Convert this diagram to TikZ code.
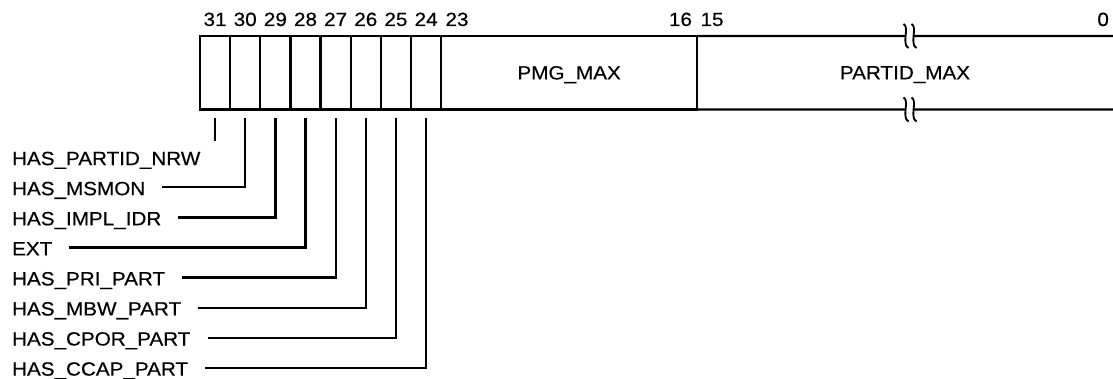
\documentclass[tikz,border=0pt]{standalone}
\usepackage{fontspec}
\setmainfont{Liberation Sans}[FakeStretch=1.08,FakeBold=0.4]
\usetikzlibrary{positioning}

\begin{document}
\begin{tikzpicture}[
  x=0.025cm,y=-0.025cm,
  font=\fontsize{13.6}{16}\selectfont,
  line width=1.6pt,
  bitcell/.style={draw,minimum width=0.75375cm,minimum height=1.8375cm,inner sep=0pt,outer sep=0pt},
  field/.style={draw,minimum width=6.395cm,minimum height=1.8375cm,inner sep=0pt,outer sep=0pt,text depth=0pt},
  bitnum/.style={anchor=base,inner sep=0pt},
  flag/.style={anchor=west,inner xsep=0pt,inner ysep=0pt,text height=0.39cm,text depth=0pt},
  lead/.style={shorten >=0.4cm},
  brk/.pic={
    \fill[white] (-4,-2.8) rectangle (4,2.8);
    \draw[line width=1.3pt] (-6.5,-12) .. controls (0,-9) and (-9,8) .. (-1.5,12);
    \draw[line width=1.3pt] (1.5,-12) .. controls (8,-9) and (-1,8) .. (6.5,12);
  }
]
  \useasboundingbox (0,0) rectangle (1113,379);

  % flag bits 31..24
  \foreach \b [count=\i from 0] in {31,30,...,24}
    \node[bitcell] (b\b) at ({215.075+30.15*\i},72.75) {};
  \foreach \b in {31,30,...,24}
    \node[bitnum] (n\b) at ([yshift=0.25cm]b\b.north) {\b};

  % wide fields
  \node[field,right=0pt of b24] (pmg) {PMG\_MAX};
  \coordinate (tend) at (1113,36);
  \coordinate (bend) at (1113,109.5);
  \draw (pmg.north east) -- (tend);
  \draw (pmg.south east) -- (bend);
  \node[text depth=0pt] (partid) at (905,72.75) {PARTID\_MAX};
  \pic at (910,36) {brk};
  \pic at (910,109.5) {brk};

  \node[bitnum,anchor=base west] (n23) at ([xshift=0.08cm,yshift=0.25cm]pmg.north west) {23};
  \node[bitnum,anchor=base east] (n16) at ([xshift=-0.1cm,yshift=0.25cm]pmg.north east) {16};
  \node[bitnum,anchor=base west] (n15) at ([xshift=0.06cm,yshift=0.25cm]pmg.north east) {15};
  \node[bitnum,anchor=base east] (n0) at ([xshift=-0.075cm,yshift=0.25cm]tend) {0};

  % field names
  \foreach \b/\t [count=\k from 0] in {31/HAS\_PARTID\_NRW,30/HAS\_MSMON,29/HAS\_IMPL\_IDR,28/EXT,
      27/HAS\_PRI\_PART,26/HAS\_MBW\_PART,25/HAS\_CPOR\_PART,24/HAS\_CCAP\_PART}
    \node[flag] (l\b) at (11,{157.3+30.07*\k}) {\t};

  \draw[shorten >=0.19cm] ([yshift=-0.2cm]b31.south) -- (b31.south |- l31.north);
  \foreach \b in {30,29,...,24}
    \draw[lead] ([yshift=-0.2cm]b\b.south) |- (l\b.east);
\end{tikzpicture}
\end{document}
